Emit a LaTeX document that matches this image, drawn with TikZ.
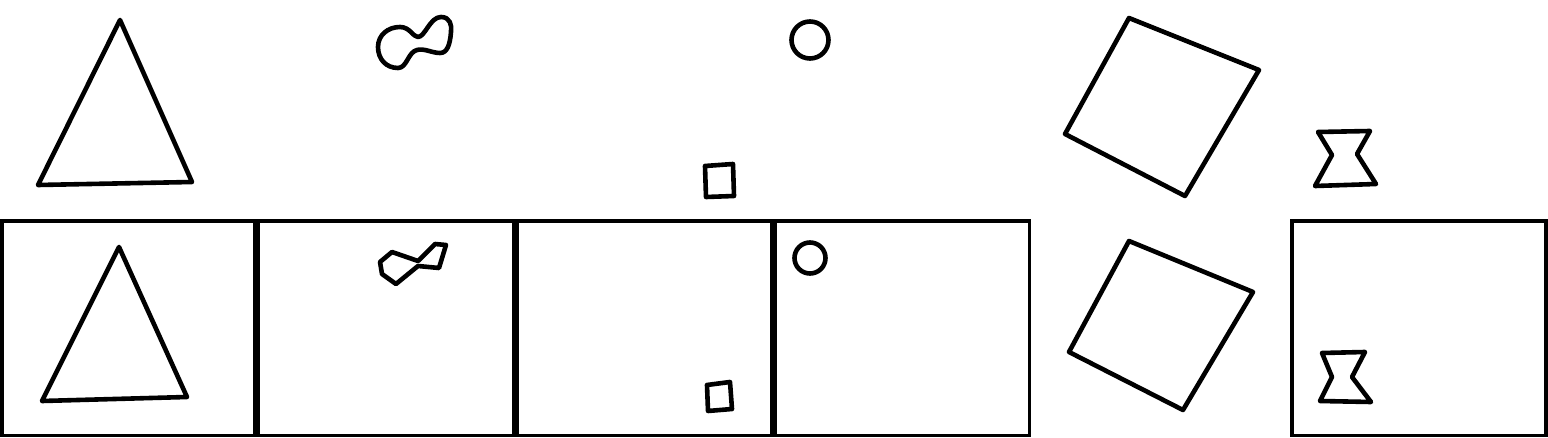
\documentclass[tikz,border=0pt]{standalone}
\begin{document}
\begin{tikzpicture}[x=1pt,y=-1pt,
  shp/.style={draw=black,line width=4.6pt,line join=round},
  frm/.style={draw=black,line width=3.8pt}]
\useasboundingbox (0,0) rectangle (1548,438);
% frames
\draw[frm] (2,221) rectangle (255,435.5);
\draw[frm] (258,221) rectangle (514,435.5);
\draw[frm] (517.5,221) rectangle (771.5,435.5);
\draw[frm] (775,221) rectangle (1029.5,435.5);
\draw[frm] (1292,221) rectangle (1546,435.5);
% triangles
\draw[shp] (120,20) -- (192,182) -- (38,185) -- cycle;
\draw[shp] (119,247) -- (187,397) -- (42,401) -- cycle;
% blob
\draw[shp] (378,47) .. controls (378,35) and (388,27) .. (400,27)
  .. controls (410,27) and (413,37) .. (418,37)
  .. controls (425,37) and (430,17) .. (441,17)
  .. controls (450,17) and (452,25) .. (451,32)
  .. controls (450,45) and (447,53) .. (440,53)
  .. controls (432,53) and (424,48) .. (417,50)
  .. controls (408,52) and (407,68) .. (398,68)
  .. controls (386,68) and (378,59) .. cycle;
\draw[shp] (380,262) -- (392,252) -- (418,261) -- (435,244) -- (446,245) -- (439,268) -- (418,266) -- (396,284) -- (382,274) -- cycle;
% circles
\draw[shp] (810,40) circle (18.5);
\draw[shp] (810,258) circle (15.5);
% small squares
\draw[shp] (705,166) -- (733,164) -- (734,196) -- (706,197) -- cycle;
\draw[shp] (707,385) -- (730,382) -- (732,409) -- (708,411) -- cycle;
% rotated squares
\draw[shp] (1129,18) -- (1259,70) -- (1185,196) -- (1065,134) -- cycle;
\draw[shp] (1129,241) -- (1253,292) -- (1183,410) -- (1069,352) -- cycle;
% hourglasses
\draw[shp] (1318,132) -- (1370,131) -- (1357,154) -- (1376,184) -- (1315,186) -- (1332,155) -- cycle;
\draw[shp] (1322,353) -- (1365,352) -- (1352,377) -- (1371,402) -- (1320,401) -- (1332,377) -- cycle;
\end{tikzpicture}
\end{document}
